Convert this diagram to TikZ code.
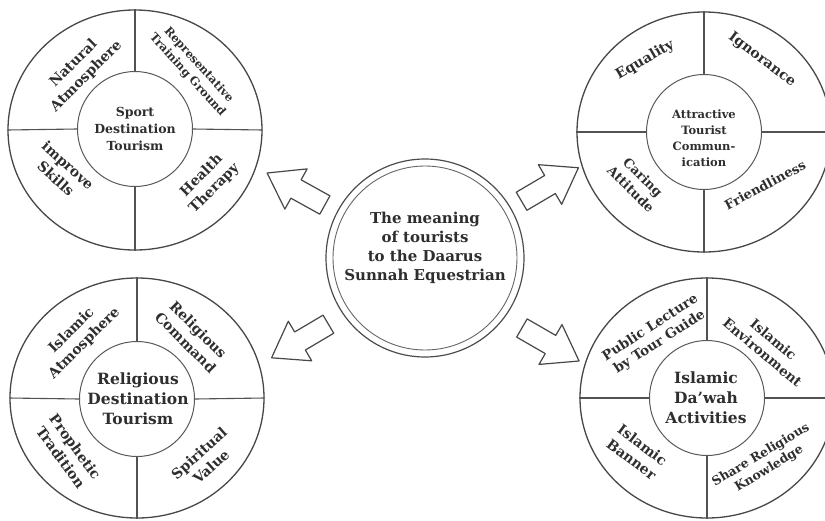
\documentclass[tikz,border=0pt]{standalone}
\usepackage{fontspec}
\setmainfont{DejaVu Serif}
\usetikzlibrary{shapes.geometric}
\newcommand{\fsz}[2]{\fontsize{#1}{#2}\selectfont}
\begin{document}
\begin{tikzpicture}[x=1pt,y=-1pt]
\tikzset{
  outerring/.style={ellipse, draw=black!72, line width=1.3pt, minimum width=254pt, minimum height=240pt, inner sep=0pt},
  hub/.style={circle, draw=black!65, line width=1pt, minimum size=115pt, inner sep=0pt},
  divider/.style={draw=black!68, line width=1.1pt},
  lbl/.style={align=center, font=\bfseries, text=black!82, inner sep=0pt},
  blockarrow/.style={draw=black!72, line width=1.2pt, fill=white, line join=round},
}
\useasboundingbox (0,0) rectangle (825,520);
\clip (0,0) rectangle (825,520);
\fill[white] (0,0) rectangle (825,520);

% ---------- centre ----------
\node[circle, draw=black!70, line width=1.2pt, minimum size=198pt, inner sep=0pt] (cenout) at (425,258) {};
\node[circle, draw=black!60, line width=0.9pt, minimum size=184pt, inner sep=0pt] (cenin) at (425,258) {};
\node[lbl, font=\bfseries\fsz{15}{19}] (centxt) at (425,248) {The meaning\\of tourists\\to the Daarus\\Sunnah Equestrian};

% ---------- top left ----------
\node[outerring] (tlo) at (135,130) {};
\node[hub] (tli) at (135,129) {};
\draw[divider] (tli.north) -- (tlo.north);
\draw[divider] (tli.south) -- (tlo.south);
\draw[divider] (tli.west) -- (tlo.west);
\draw[divider] (tli.east) -- (tlo.east);
\node[lbl, font=\bfseries\fsz{12.5}{17}] (tlc) at (135,129) {Sport\\Destination\\Tourism};
\node[lbl, font=\bfseries\fsz{14}{18}, rotate=45] (tl1) at (80,70) {Natural\\Atmosphere};
\node[lbl, font=\bfseries\fsz{11.5}{15}, rotate=-48] (tl2) at (193,70) {Representative\\Training Ground};
\node[lbl, font=\bfseries\fsz{14}{18}, rotate=-42] (tl3) at (62,172) {improve\\Skills};
\node[lbl, font=\bfseries\fsz{14}{18}, rotate=45] (tl4) at (208,182) {Health\\Therapy};

% ---------- top right ----------
\node[outerring] (tro) at (704,132) {};
\node[hub] (tri) at (704,132) {};
\draw[divider] (tri.north) -- (tro.north);
\draw[divider] (tri.south) -- (tro.south);
\draw[divider] (tri.west) -- (tro.west);
\draw[divider] (tri.east) -- (tro.east);
\node[lbl, font=\bfseries\fsz{11.5}{16}] (trc) at (704,138) {Attractive\\Tourist\\Commun-\\ication};
\node[lbl, font=\bfseries\fsz{14}{17}, rotate=30] (tr1) at (645,60) {Equality};
\node[lbl, font=\bfseries\fsz{14}{17}, rotate=-37] (tr2) at (762,60) {Ignorance};
\node[lbl, font=\bfseries\fsz{13}{17}, rotate=-45] (tr3) at (637,183) {Caring\\Attitude};
\node[lbl, font=\bfseries\fsz{13}{17}, rotate=28] (tr4) at (765,185) {Friendliness};

% ---------- bottom left ----------
\node[outerring] (blo) at (137,398) {};
\node[hub] (bli) at (137,399) {};
\draw[divider] (bli.north) -- (blo.north);
\draw[divider] (bli.south) -- (blo.south);
\draw[divider] (bli.west) -- (blo.west);
\draw[divider] (bli.east) -- (blo.east);
\node[lbl, font=\bfseries\fsz{15.5}{20}] (blc) at (138,399) {Religious\\Destination\\Tourism};
\node[lbl, font=\bfseries\fsz{14}{18}, rotate=45] (bl1) at (78,337) {Islamic\\Atmosphere};
\node[lbl, font=\bfseries\fsz{14}{18}, rotate=-45] (bl2) at (192,336) {Religious\\Command};
\node[lbl, font=\bfseries\fsz{14}{18}, rotate=-54] (bl3) at (68,452) {Prophetic\\Tradition};
\node[lbl, font=\bfseries\fsz{14}{18}, rotate=42] (bl4) at (205,460) {Spiritual\\Value};

% ---------- bottom right ----------
\node[outerring] (bro) at (707,398) {};
\node[hub] (bri) at (707,398) {};
\draw[divider] (bri.north) -- (bro.north);
\draw[divider] (bri.south) -- (bro.south);
\draw[divider] (bri.west) -- (bro.west);
\draw[divider] (bri.east) -- (bro.east);
\node[lbl, font=\bfseries\fsz{15.5}{20}] (brc) at (706,398) {Islamic\\Da'wah\\Activities};
\node[lbl, font=\bfseries\fsz{13.5}{17}, rotate=33] (br1) at (655,335) {Public Lecture\\by Tour Guide};
\node[lbl, font=\bfseries\fsz{13.5}{17}, rotate=-40] (br2) at (768,346) {Islamic\\Environment};
\node[lbl, font=\bfseries\fsz{14}{18}, rotate=-37] (br3) at (637,452) {Islamic\\Banner};
\node[lbl, font=\bfseries\fsz{12.5}{16}, rotate=31] (br4) at (765,462) {Share Religious\\Knowledge};

% ---------- block arrows ----------
\foreach \nm/\px/\py/\ang in {atl/296/189/151, atr/550/184.5/30.5, abl/300/341/210.6, abr/550.5/344.5/-30}{
  \begin{scope}[shift={(\px,\py)}, rotate=\ang]
    \draw[blockarrow] (-33,-10.5) -- (0,-10.5) -- (0,-23) -- (33,0) -- (0,23) -- (0,10.5) -- (-33,10.5) -- cycle;
  \end{scope}
}
\end{tikzpicture}
\end{document}
